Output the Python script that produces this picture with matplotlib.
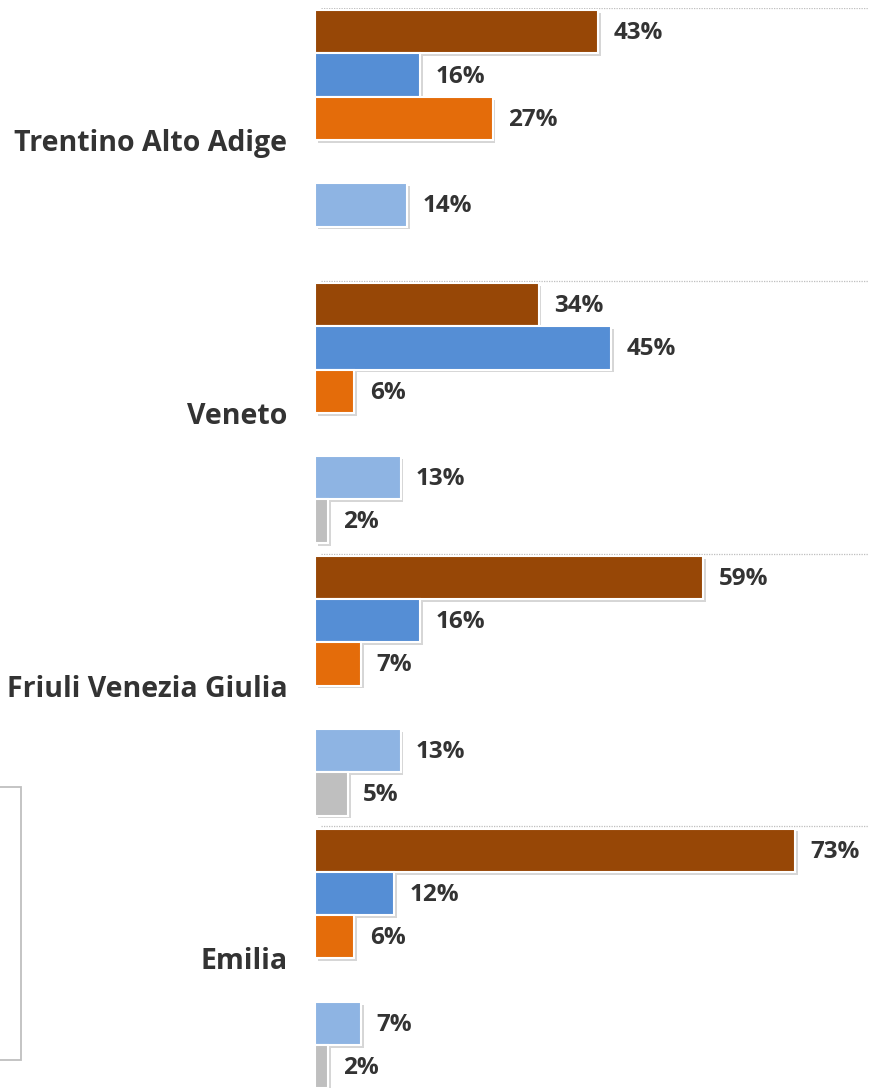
import matplotlib
matplotlib.use("Agg")
import matplotlib.pyplot as plt
import matplotlib.patheffects as pe
from matplotlib.patches import Rectangle
import numpy as np

plt.rcParams['font.family'] = ['Open Sans', 'DejaVu Sans']

regions = ["Trentino Alto Adige", "Veneto", "Friuli Venezia Giulia", "Emilia"]
series_a = [43, 34, 59, 73]   # brown
series_b = [16, 45, 16, 12]   # blue
series_c = [27, 6, 7, 6]      # orange
series_d = [0, 0, 0, 0]       # empty slot
series_e = [14, 13, 13, 7]    # light blue
series_f = [0, 2, 5, 2]       # gray
series_list = [series_a, series_b, series_c, series_d, series_e, series_f]
colors = ["#974706", "#558ED5", "#E46C0A", "#FFFFFF", "#8EB4E3", "#BFBFBF"]

W, H = 869, 1088
fig = plt.figure(figsize=(W / 100, H / 100), dpi=100)
top_px = 8
ax = fig.add_axes([315 / W, 0, 1 - 315 / W, (H - top_px) / H])

pitch = 6.3
centers = np.arange(len(regions)) * pitch
text_col = "#333333"

shadow = [pe.SimplePatchShadow(offset=(2, -2), shadow_rgbFace="#8a8a8a", alpha=0.35), pe.Normal()]

for j, vals in enumerate(series_list):
    ys = centers + (j - 2.5)
    for y, v in zip(ys, vals):
        if v <= 0:
            continue
        ax.barh(y, v, height=1.0, color=colors[j], edgecolor="white", linewidth=1.5,
                path_effects=shadow, zorder=3)
        ax.annotate(f"{v}%", xy=(v, y), xytext=(11, -1), textcoords="offset points",
                    va="center", ha="left", fontsize=17.5, fontweight="bold", color=text_col)

# dotted separators
for c in centers:
    ax.axhline(c - 3.05, color="#BFBFBF", linestyle=(0, (1, 1)), linewidth=0.9, zorder=1,
               xmin=0.01)

ax.set_xlim(0, 84.2)
ax.set_ylim(-3.05 + (H - top_px) / 43.3, -3.05)
ax.set_yticks(centers)
ax.set_yticklabels(regions, fontsize=20.5, fontweight="bold", color=text_col)
ax.tick_params(axis="y", length=0, pad=20)
ax.set_xticks([])
for s in ax.spines.values():
    s.set_visible(False)

# legend frame (cropped)
fig.add_artist(Rectangle((-0.01, (H - 1060) / H), 21 / W + 0.01, (1060 - 787) / H,
                         transform=fig.transFigure, fill=False, edgecolor="#BFBFBF", linewidth=1.3))

fig.savefig("out.png", dpi=100)
